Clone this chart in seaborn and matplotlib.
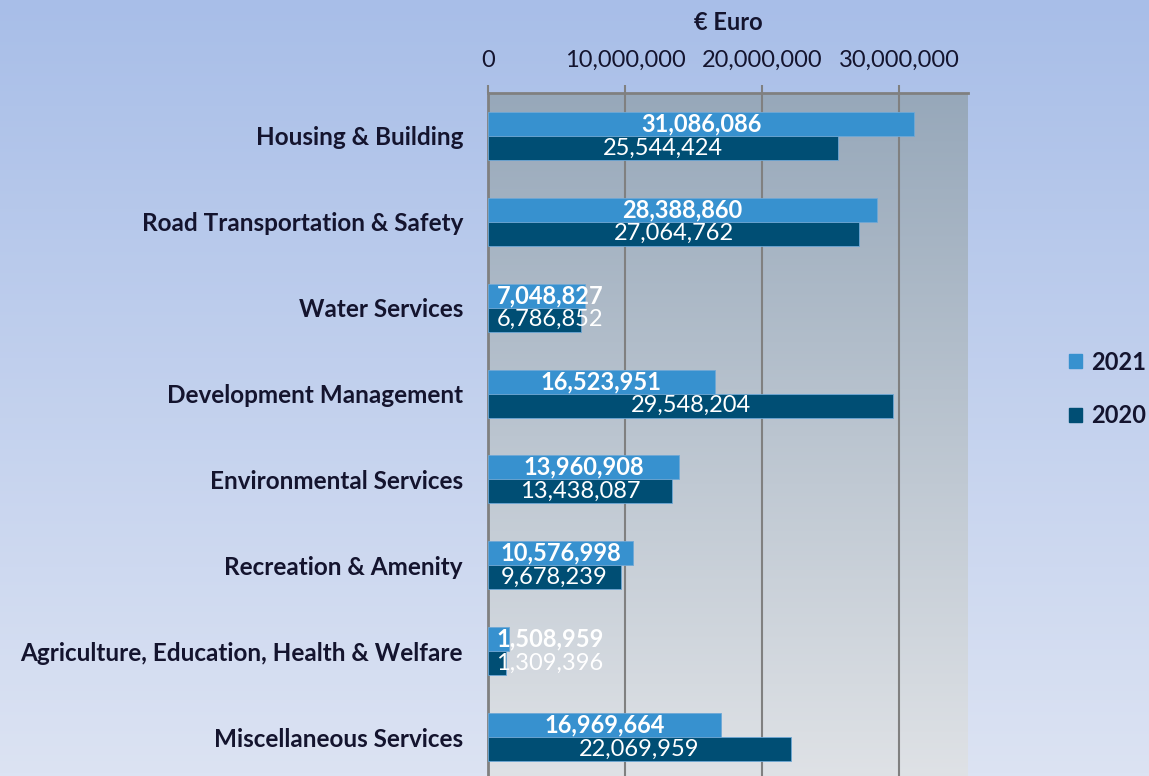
import numpy as np
import pandas as pd
import seaborn as sns
import matplotlib.pyplot as plt
from matplotlib.colors import LinearSegmentedColormap

categories = [
    "Housing & Building",
    "Road Transportation & Safety",
    "Water Services",
    "Development Management",
    "Environmental Services",
    "Recreation & Amenity",
    "Agriculture, Education, Health & Welfare",
    "Miscellaneous Services",
]
values_2021 = [31086086, 28388860, 7048827, 16523951, 13960908, 10576998, 1508959, 16969664]
values_2020 = [25544424, 27064762, 6786852, 29548204, 13438087, 9678239, 1309396, 22069959]
years = ["2021", "2020"]
x_ticks = [0, 10000000, 20000000, 30000000]

df = pd.DataFrame({
    "category": categories * 2,
    "value": values_2021 + values_2020,
    "year": ["2021"] * len(categories) + ["2020"] * len(categories),
})

sns.set_style("white")
plt.rcParams["font.family"] = ["Lato", "DejaVu Sans"]
text_col = "#14142e"
c21, c20 = "#3791cf", "#004e74"

fig = plt.figure(figsize=(11.49, 7.76), dpi=100)

# figure background gradient
bg = fig.add_axes([0, 0, 1, 1], zorder=-10)
bg_cmap = LinearSegmentedColormap.from_list("bg", ["#a8bee8", "#dce3f3"])
bg.imshow(np.linspace(0, 1, 256).reshape(-1, 1), cmap=bg_cmap, aspect="auto",
          extent=[0, 1, 0, 1])
bg.axis("off")

ax = fig.add_axes([488 / 1149, -4 / 776, (968 - 488) / 1149, (776 - 93 + 4) / 776])
ax.patch.set_alpha(0)
ax_cmap = LinearSegmentedColormap.from_list("ax", ["#97a8ba", "#dfe2e6"])
ax.imshow(np.linspace(0, 1, 256).reshape(-1, 1), cmap=ax_cmap, aspect="auto",
          extent=[0, 1, 0, 1], transform=ax.transAxes, zorder=-5)

sns.barplot(data=df, y="category", x="value", hue="year", hue_order=years,
            palette=[c21, c20], saturation=1, orient="h", width=0.56, ax=ax,
            edgecolor="#6fa8d6", linewidth=0.6, zorder=3)

ax.set_xlim(0, 35000000)
ax.set_ylim(len(categories) - 0.5, -0.5)
ax.xaxis.tick_top()
ax.set_xticks(x_ticks)
ax.set_xticklabels([f"{t:,}" for t in x_ticks], fontsize=17, color=text_col)
ax.tick_params(axis="x", length=6, width=1.5, color="#808080", pad=10)
ax.grid(axis="x", color="#808080", linewidth=1.5, zorder=1)
ax.set_axisbelow(True)

ax.set_yticks(range(len(categories)))
ax.set_yticklabels(categories, fontsize=17.5, fontweight="bold", color=text_col)
ax.tick_params(axis="y", length=0, pad=18)
ax.set_yticks(np.arange(-0.5, len(categories), 1), minor=True)
ax.tick_params(axis="y", which="minor", length=6, width=1.5, color="#808080")

ax.set_xlabel("€ Euro", fontsize=17, fontweight="bold", color=text_col, labelpad=14)
ax.xaxis.set_label_position("top")
ax.set_ylabel("")

for s in ["right", "bottom"]:
    ax.spines[s].set_visible(False)
for s in ["left", "top"]:
    ax.spines[s].set_color("#808080")
    ax.spines[s].set_linewidth(2)

# value labels
for cont, weight in zip(ax.containers, ["bold", "normal"]):
    for bar in cont:
        w = bar.get_width()
        y = bar.get_y() + bar.get_height() / 2
        x = max(w / 2, 4.5e6)
        ax.text(x, y, f"{int(round(w)):,}", ha="center", va="center",
                color="white", fontsize=17, fontweight=weight, zorder=5)

ax.legend_.remove()
handles = [plt.Rectangle((0, 0), 1, 1, color=c) for c in [c21, c20]]
fig.legend(handles, years, loc="center left", bbox_to_anchor=(1069 / 1149, 1 - 389 / 776),
           frameon=False, prop={"size": 17, "weight": "bold"}, labelcolor=text_col,
           handlelength=0.55, handleheight=0.55, handletextpad=0.4, labelspacing=1.3,
           borderpad=0, borderaxespad=0)

fig.savefig("out.png", dpi=100)
